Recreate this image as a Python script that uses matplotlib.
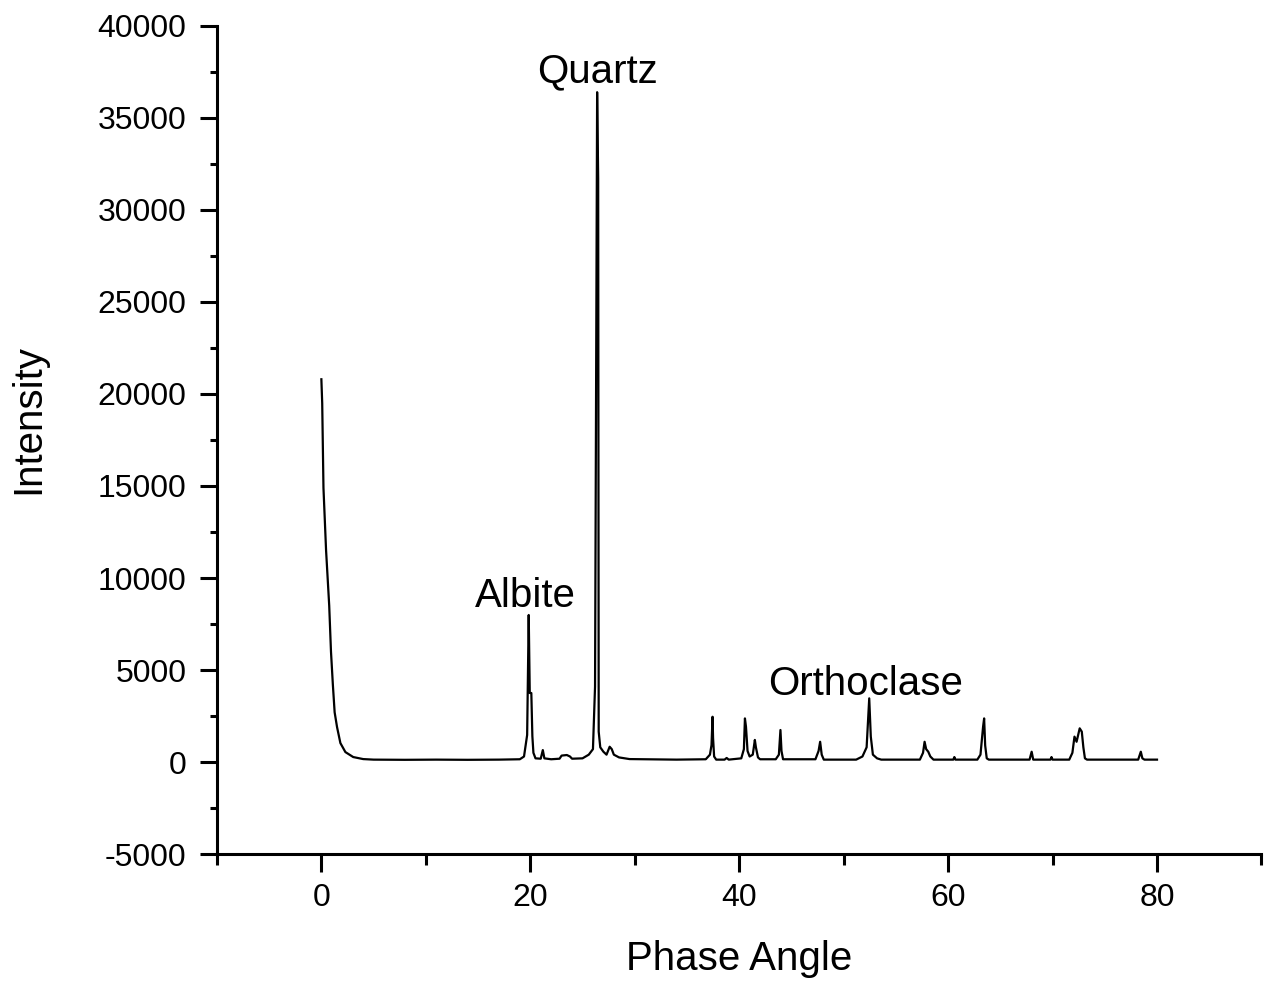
import numpy as np
import matplotlib
matplotlib.use("Agg")
import matplotlib.pyplot as plt
from matplotlib.ticker import MultipleLocator

# Diffractogram trace (phase angle, intensity)
angle = [0.00, 0.08, 0.20, 0.45, 0.75, 0.92, 1.10, 1.27, 1.50, 1.82, 2.30, 3.05, 4.00, 5.00,
         8.0, 11.0, 14.0, 17.0, 19.0, 19.4, 19.7, 19.85, 19.95, 20.1, 20.2, 20.3, 20.5,
         21.0, 21.2, 21.35, 22.0, 22.8, 23.0, 23.5, 23.8, 24.0, 25.0, 25.6, 26.0, 26.2,
         26.4, 26.5, 26.55, 26.7, 27.0, 27.3, 27.6, 27.8, 28.0, 28.5, 29.5, 31.0, 34.0,
         36.8, 37.2, 37.35, 37.45, 37.5, 37.6, 37.8, 38.6, 38.8, 39.0, 40.2, 40.45, 40.55,
         40.65, 40.8, 41.0, 41.3, 41.5, 41.6, 41.8, 42.0, 43.5, 43.8, 43.95, 44.05, 44.2,
         47.3, 47.6, 47.75, 47.9, 48.1, 51.2, 51.8, 52.2, 52.45, 52.6, 52.8, 53.2, 53.6,
         57.3, 57.6, 57.75, 57.9, 58.1, 58.3, 58.6, 60.5, 60.6, 60.7, 62.8, 63.1, 63.35,
         63.45, 63.55, 63.7, 63.9, 67.8, 68.0, 68.15, 69.8, 69.9, 70.0, 71.6, 71.9, 72.1,
         72.3, 72.6, 72.8, 72.95, 73.1, 73.3, 78.2, 78.45, 78.6, 78.8, 80.0]
intensity = [20800, 19500, 14900, 11500, 8500, 6000, 4200, 2700, 1900, 1030, 540, 270, 160, 130,
             120, 130, 120, 130, 150, 300, 1470, 7990, 3750, 3750, 1400, 500, 200,
             180, 650, 200, 150, 180, 350, 380, 300, 180, 200, 400, 700, 4100,
             36400, 31700, 1650, 800, 560, 400, 830, 700, 400, 250, 160, 150, 130,
             150, 400, 920, 2460, 1300, 300, 130, 130, 220, 130, 200, 700, 2370,
             1920, 600, 300, 400, 1200, 800, 250, 150, 150, 400, 1740, 600, 150,
             150, 600, 1100, 400, 130, 130, 300, 800, 3460, 1380, 400, 200, 130,
             130, 500, 1100, 700, 560, 300, 130, 130, 270, 130, 130, 400, 1920,
             2370, 900, 200, 130, 130, 560, 130, 130, 270, 130, 130, 500, 1380,
             1100, 1830, 1650, 800, 200, 130, 130, 560, 200, 130, 130]

phases = ["Quartz", "Albite", "Orthoclase"]
phase_x = [26.4, 19.5, 52.1]
phase_y = [36950, 8420, 3640]

plt.rcParams['font.family'] = ['Liberation Sans', 'DejaVu Sans']
plt.rcParams['axes.unicode_minus'] = False

fig = plt.figure(figsize=(12.76, 9.83), dpi=100)
ax = fig.add_axes([0.170, 0.1312, 0.8186, 0.8424])

ax.plot(angle, intensity, color='black', linewidth=1.6)

for name, px, py in zip(phases, phase_x, phase_y):
    ax.text(px, py, name, ha='center', va='baseline', fontsize=29)

ax.set_xlim(-10, 90)
ax.set_ylim(-5000, 40000)
ax.xaxis.set_major_locator(MultipleLocator(20))
ax.xaxis.set_minor_locator(MultipleLocator(10))
ax.yaxis.set_major_locator(MultipleLocator(5000))
ax.yaxis.set_minor_locator(MultipleLocator(2500))

for side in ['top', 'right']:
    ax.spines[side].set_visible(False)
for side in ['left', 'bottom']:
    ax.spines[side].set_linewidth(2.2)

ax.tick_params(axis='x', which='major', direction='out', length=13, width=2.2,
               labelsize=23, pad=8)
ax.tick_params(axis='x', which='minor', direction='out', length=8, width=2.2)
ax.tick_params(axis='y', which='major', direction='out', length=12, width=2.2,
               labelsize=23, pad=10)
ax.tick_params(axis='y', which='minor', direction='out', length=5, width=2.2)

ax.set_xlabel("Phase Angle", fontsize=29, labelpad=19)
ax.set_ylabel("Intensity", fontsize=29, labelpad=36)
ax.yaxis.label.set_y(0.525)  # label sits a bit above the axis centre

fig.savefig("out.png", dpi=100)
